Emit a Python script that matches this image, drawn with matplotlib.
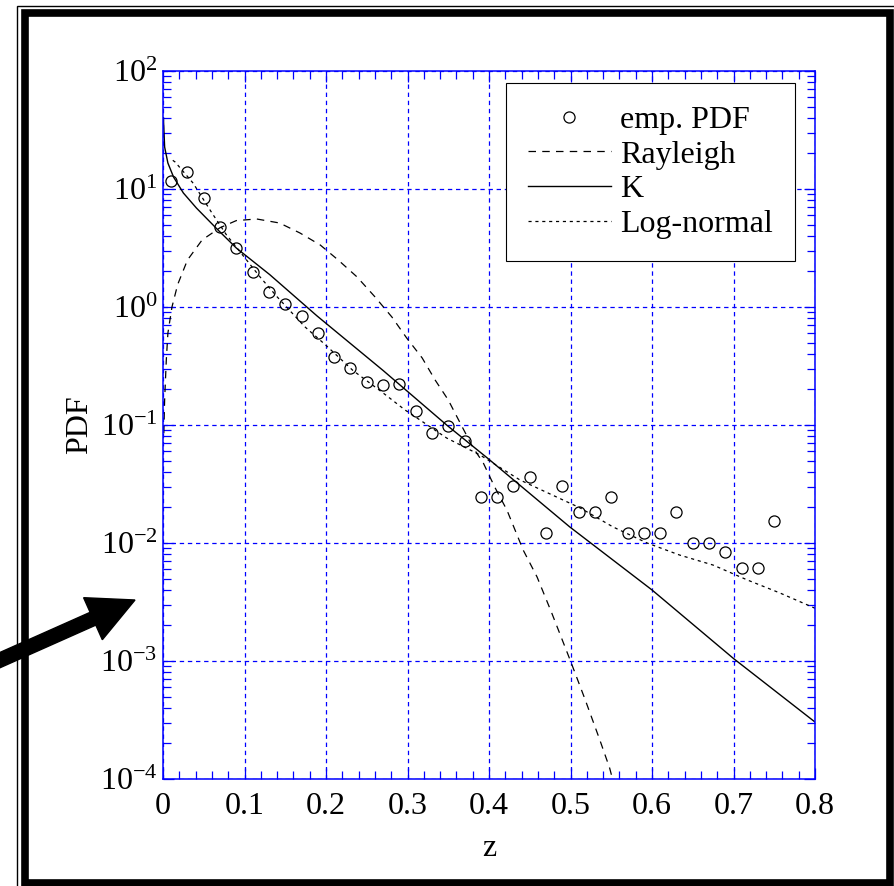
import matplotlib
matplotlib.use('Agg')
import matplotlib.pyplot as plt
import matplotlib.ticker as ticker
import matplotlib.transforms as mtransforms
from matplotlib.patches import FancyArrow, Rectangle

plt.rcParams['font.family'] = ['Liberation Serif', 'DejaVu Serif']
plt.rcParams['mathtext.fontset'] = 'custom'
plt.rcParams['mathtext.rm'] = 'Liberation Serif'
plt.rcParams['mathtext.it'] = 'Liberation Serif:italic'

# empirical histogram estimate of the PDF
emp_z = [0.01, 0.03, 0.05, 0.07, 0.09, 0.11, 0.13, 0.15, 0.17, 0.19,
         0.21, 0.23, 0.25, 0.27, 0.29, 0.31, 0.33, 0.35, 0.37, 0.39,
         0.41, 0.43, 0.45, 0.47, 0.49, 0.51, 0.53, 0.55, 0.57, 0.59,
         0.61, 0.63, 0.65, 0.67, 0.69, 0.71, 0.73, 0.75]
emp_pdf = [11.7, 13.9, 8.4, 4.77, 3.16, 1.98, 1.34, 1.06, 0.84, 0.60,
           0.377, 0.304, 0.231, 0.218, 0.222, 0.131, 0.0855, 0.098, 0.0731, 0.0245,
           0.0245, 0.0304, 0.0362, 0.0122, 0.0304, 0.0183, 0.0183, 0.0245, 0.0122, 0.0122,
           0.0122, 0.0183, 0.0100, 0.0100, 0.0084, 0.0061, 0.0061, 0.0153]

# fitted Rayleigh model
ray_z = [0.001, 0.002, 0.004, 0.006, 0.011, 0.018, 0.03, 0.048, 0.07, 0.09,
         0.115, 0.143, 0.168, 0.193, 0.215, 0.238, 0.26, 0.281, 0.299, 0.318,
         0.334, 0.35, 0.364, 0.38, 0.393, 0.407, 0.422, 0.442, 0.459, 0.477,
         0.50, 0.518, 0.536, 0.548, 0.56]
ray_pdf = [0.085, 0.163, 0.35, 0.6, 1.0, 1.55, 2.5, 3.7, 4.7, 5.4,
           5.57, 5.15, 4.24, 3.35, 2.5, 1.80, 1.22, 0.82, 0.546, 0.37,
           0.24, 0.163, 0.106, 0.065, 0.0477, 0.0298, 0.019, 0.0087, 0.00515, 0.00255,
           0.0010, 4.7e-4, 2.14e-4, 1.24e-4, 6e-5]

# fitted K model
k_z = [0.0005, 0.002, 0.006, 0.013, 0.025, 0.041, 0.066, 0.09, 0.131, 0.189,
       0.27, 0.348, 0.398, 0.499, 0.6, 0.7, 0.8]
k_pdf = [40, 22.7, 16.6, 12.6, 9.25, 6.9, 4.6, 3.16, 1.88, 0.84,
         0.29, 0.10, 0.0525, 0.0137, 0.0040, 0.00105, 0.000304]

# fitted log-normal model
ln_z = [0.012, 0.015, 0.037, 0.06, 0.078, 0.086, 0.119, 0.14, 0.174, 0.199,
        0.233, 0.27, 0.297, 0.319, 0.348, 0.389, 0.438, 0.512, 0.552, 0.594,
        0.634, 0.675, 0.717, 0.757, 0.791, 0.8]
ln_pdf = [17.5, 16.9, 11.2, 6.27, 4.07, 3.48, 1.8, 1.22, 0.68, 0.48,
          0.29, 0.187, 0.134, 0.106, 0.0776, 0.0557, 0.0342, 0.0198, 0.0137, 0.0100,
          0.0079, 0.0065, 0.00486, 0.00377, 0.00298, 0.0028]

x_ticks = [0, 0.1, 0.2, 0.3, 0.4, 0.5, 0.6, 0.7, 0.8]
x_ticklabels = ['0', '0.1', '0.2', '0.3', '0.4', '0.5', '0.6', '0.7', '0.8']
y_exponents = [-4, -3, -2, -1, 0, 1, 2]

FS = 23
W, H = 894, 886
fig = plt.figure(figsize=(W / 100, H / 100), dpi=100)
ax = fig.add_axes([163 / W, 107 / H, 652 / W, 708 / H])

ax.semilogy(emp_z, emp_pdf, 'o', mfc='none', mec='k', ms=8, mew=0.9, label='emp. PDF')
ax.semilogy(ray_z, ray_pdf, color='k', lw=0.9, ls=(0, (6, 5)), label='Rayleigh')
ax.semilogy(k_z, k_pdf, 'k-', lw=1.0, label='K')
ax.semilogy(ln_z, ln_pdf, color='k', lw=0.9, ls=(0, (2.5, 3)), label='Log-normal')

ax.set_xlim(0, 0.8)
ax.set_ylim(1e-4, 1e2)
ax.set_xticks(x_ticks)
ax.set_xticklabels(x_ticklabels)
ax.xaxis.set_minor_locator(ticker.MultipleLocator(0.02))
ax.set_yticks([10.0 ** e for e in y_exponents])
ax.set_yticklabels([r'$10^{%d}$' % e for e in y_exponents])
ax.yaxis.set_minor_locator(ticker.LogLocator(base=10, subs=range(2, 10), numticks=20))
ax.yaxis.set_minor_formatter(ticker.NullFormatter())

ax.grid(True, which='major', color='blue', ls=(0, (3.5, 3)), lw=0.9)
for s in ax.spines.values():
    s.set_color('blue')
    s.set_linewidth(1.1)
ax.tick_params(which='both', direction='in', top=True, right=True,
               colors='blue', labelcolor='black', labelsize=FS)
ax.tick_params(which='major', length=8, width=0.9)
ax.tick_params(which='minor', length=6, width=0.9)
ax.tick_params(axis='x', which='major', pad=9)
ax.tick_params(axis='y', which='major', pad=4)

ax.set_xlabel('z', fontsize=FS, labelpad=10)
ax.set_ylabel('PDF', fontsize=FS, labelpad=4)

leg = ax.legend(loc='upper right', bbox_to_anchor=(0.9693, 0.983), borderaxespad=0,
                fontsize=FS, fancybox=False, edgecolor='black', framealpha=1,
                handlelength=2.6, handletextpad=0.28, labelspacing=0.17, borderpad=0.7)
leg.get_frame().set_linewidth(0.8)

# page frame and pointer arrow, in pixel units
px = mtransforms.Affine2D().scale(1 / 100) + fig.dpi_scale_trans
fig.add_artist(Rectangle((17, -10), W, H - 6 + 10, fill=False, ec='black', lw=1.0,
                         transform=px))
fig.add_artist(Rectangle((24.5, 3), 865, H - 13 - 3, fill=False, ec='black', lw=5.5,
                         transform=px))
fig.add_artist(FancyArrow(-20, H - 669, 155, 69, width=14, head_width=46, head_length=46,
                          length_includes_head=True, color='black', transform=px))

fig.savefig('out.png', dpi=100)
